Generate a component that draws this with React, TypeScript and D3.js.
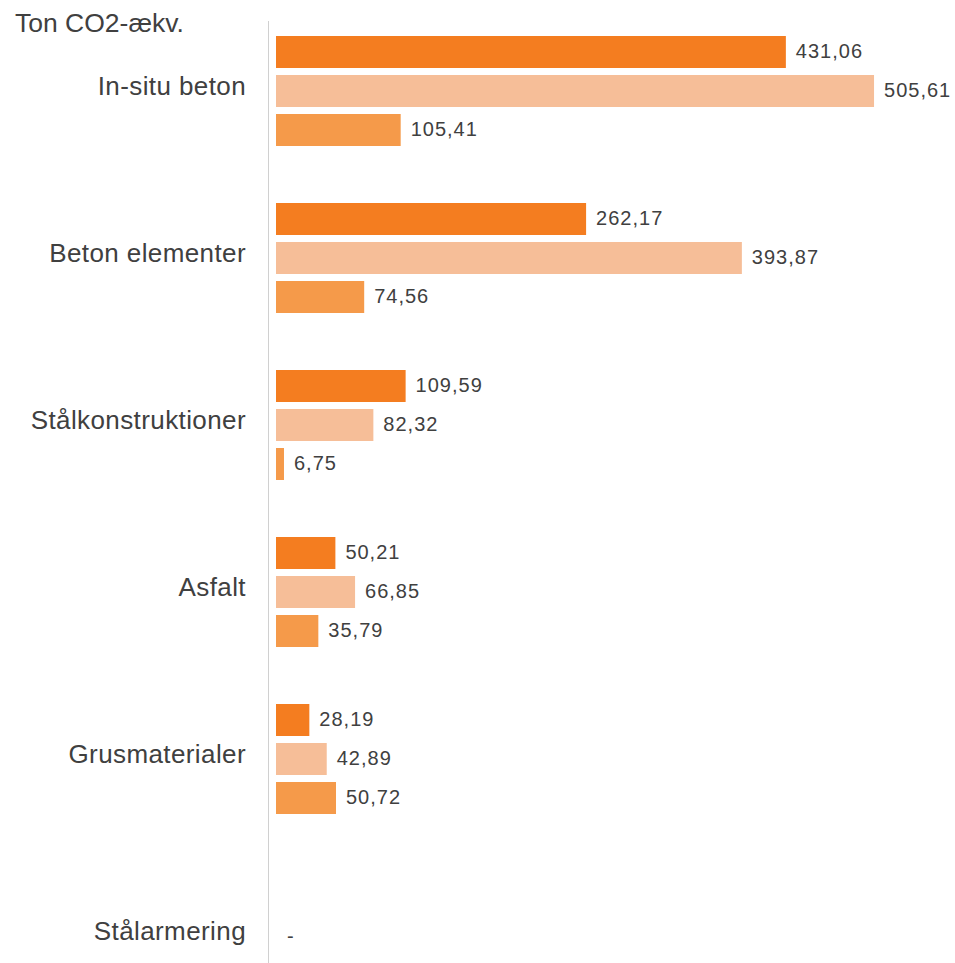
import React from "react";
import * as d3 from "d3";

const categories = ["In-situ beton", "Beton elementer", "Stålkonstruktioner", "Asfalt", "Grusmaterialer", "Stålarmering"];
const seriesNames = ["A", "B", "C"];
const seriesA: (number | null)[] = [431.06, 262.17, 109.59, 50.21, 28.19, null];
const seriesB: (number | null)[] = [505.61, 393.87, 82.32, 66.85, 42.89, null];
const seriesC: (number | null)[] = [105.41, 74.56, 6.75, 35.79, 50.72, null];
const seriesColors = ["#F47D20", "#F6BE98", "#F59A4A"];
const yTitle = "Ton CO2-ækv.";

const W = 955;
const H = 963;
const FONT = "'Liberation Sans', Arial, sans-serif";
const TEXT = "#404040";

const fmt = (v: number) => v.toFixed(2).replace(".", ",");

export default function App() {
  const all = [seriesA, seriesB, seriesC];
  const x = d3.scaleLinear().domain([0, 500]).range([276, 276 + 591.4]);
  const y = d3.scaleBand<string>().domain(categories).range([7.5, 7.5 + 167 * categories.length]);
  const inner = d3
    .scaleBand<string>()
    .domain(seriesNames)
    .range([-58.5, 58.5])
    .paddingInner(7 / 39)
    .paddingOuter(3.5 / 39);
  const bw = inner.bandwidth();

  return (
    <svg width={W} height={H} style={{ position: "absolute", left: 0, top: 0, background: "#fff" }}>
      <rect x={0} y={0} width={W} height={H} fill="#fff" />
      <text x={15} y={32} fontFamily={FONT} fontSize={26.5} fill={TEXT}>
        {yTitle}
      </text>
      <line x1={268.5} x2={268.5} y1={21} y2={H} stroke="#d0d0d0" strokeWidth={1} />
      {categories.map((c, ci) => {
        const cy = (y(c) as number) + y.bandwidth() / 2;
        const empty = all.every((s) => s[ci] == null);
        return (
          <g key={c}>
            <text
              x={246}
              y={cy + (empty ? 14 : 4)}
              textAnchor="end"
              fontFamily={FONT}
              fontSize={26}
              letterSpacing={0.4}
              fill={TEXT}
            >
              {c}
            </text>
            {seriesNames.map((s, si) => {
              const v = all[si][ci];
              const by = cy + (inner(s) as number);
              if (v == null) {
                if (si !== 1) return null;
                return (
                  <text key={s} x={x(0) + 11} y={by + bw / 2 + 17} fontFamily={FONT} fontSize={20} fill={TEXT}>
                    -
                  </text>
                );
              }
              return (
                <g key={s}>
                  <rect x={x(0)} y={by} width={x(v) - x(0)} height={bw} fill={seriesColors[si]} />
                  <text
                    x={x(v) + 10}
                    y={by + bw / 2 + 6}
                    fontFamily={FONT}
                    fontSize={20}
                    letterSpacing={1}
                    fill={TEXT}
                  >
                    {fmt(v)}
                  </text>
                </g>
              );
            })}
          </g>
        );
      })}
    </svg>
  );
}
